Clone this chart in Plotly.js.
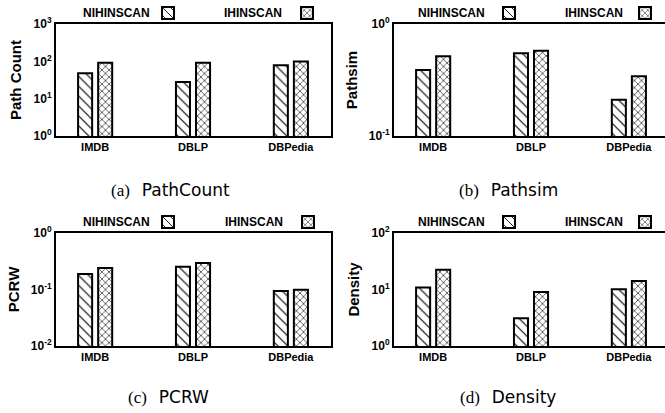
<!DOCTYPE html>
<html>
<head>
<meta charset="utf-8">
<script src="https://cdn.plot.ly/plotly-3.0.1.min.js"></script>
<style>
html, body { margin: 0; padding: 0; overflow: hidden; background: #fff; }
#chart { width: 671px; height: 413px; }
</style>
</head>
<body>
<div id="chart"></div>
<script>
// ---- data ----
const categories = ['IMDB', 'DBLP', 'DBPedia'];
const seriesNames = ['NIHINSCAN', 'IHINSCAN'];

const pathCountNIH = [48, 28, 78];
const pathCountIH = [92, 92, 99];

const pathsimNIH = [0.388, 0.548, 0.211];
const pathsimIH = [0.515, 0.578, 0.341];

const pcrwNIH = [0.188, 0.253, 0.094];
const pcrwIH = [0.240, 0.294, 0.099];

const densityNIH = [10.9, 3.09, 10.1];
const densityIH = [22.4, 9.0, 14.1];

const yTitles = ['Path Count', 'Pathsim', 'PCRW', 'Density'];
const captionLabels = ['(a)', '(b)', '(c)', '(d)'];
const captionNames = ['PathCount', 'Pathsim', 'PCRW', 'Density'];

const tickValsA = [1, 10, 100, 1000];
const tickTextA = ['10<sup>0</sup>', '10<sup>1</sup>', '10<sup>2</sup>', '10<sup>3</sup>'];
const tickValsB = [0.1, 1];
const tickTextB = ['10<sup>-1</sup>', '10<sup>0</sup>'];
const tickValsC = [0.01, 0.1, 1];
const tickTextC = ['10<sup>-2</sup>', '10<sup>-1</sup>', '10<sup>0</sup>'];
const tickValsD = [1, 10, 100];
const tickTextD = ['10<sup>0</sup>', '10<sup>1</sup>', '10<sup>2</sup>'];

// ---- layout helpers ----
const W = 671, H = 413;
const px = v => v / W;
const py = v => 1 - v / H;

const panelData = [
  [pathCountNIH, pathCountIH],
  [pathsimNIH, pathsimIH],
  [pcrwNIH, pcrwIH],
  [densityNIH, densityIH]
];
const panelTicks = [
  [tickValsA, tickTextA, [0, 3]],
  [tickValsB, tickTextB, [-1, 0]],
  [tickValsC, tickTextC, [-2, 0]],
  [tickValsD, tickTextD, [0, 2]]
];
const boxes = [
  {l: 56, r: 331, t: 24, b: 136},
  {l: 394, r: 669, t: 24, b: 136},
  {l: 56, r: 331, t: 233, b: 346},
  {l: 394, r: 669, t: 233, b: 346}
];
const legendIds = ['legend', 'legend2', 'legend3', 'legend4'];
const swatchCenters = [[168, 302], [509, 640], [168, 303], [509, 640]];
const legendTextEnds = [[152, 284], [487, 625], [152, 285], [487, 625]];
const legendY = [13, 222];
const captionX = [170, 508, 168, 508];
const captionY = [190, 397];

const patterns = [
  {shape: '\\', size: 7, solidity: 0.16},
  {shape: 'x', size: 5, solidity: 0.22}
];

const bold = {family: 'Liberation Sans, Arial, sans-serif', weight: 'bold', color: '#000'};

const traces = [];
const layout = {
  width: W, height: H,
  margin: {l: 0, r: 0, t: 0, b: 0, autoexpand: false},
  paper_bgcolor: '#fff', plot_bgcolor: '#fff',
  barmode: 'group', bargap: 0.59, bargroupgap: 0.3,
  showlegend: true,
  annotations: [],
  font: {family: 'Liberation Sans, Arial, sans-serif', color: '#000'}
};

for (let p = 0; p < 4; p++) {
  const sfx = p === 0 ? '' : String(p + 1);
  const xa = 'x' + sfx, ya = 'y' + sfx;
  const bx = boxes[p];
  for (let s = 0; s < 2; s++) {
    traces.push({
      type: 'bar',
      x: categories,
      y: panelData[p][s],
      name: '',
      legend: legendIds[p],
      xaxis: xa, yaxis: ya,
      hoverinfo: 'skip',
      marker: {
        color: '#fff',
        line: {color: '#000', width: 2},
        pattern: Object.assign({fgcolor: '#000', bgcolor: '#fff', fillmode: 'replace'}, patterns[s])
      }
    });
  }
  layout['xaxis' + sfx] = {
    domain: [px(bx.l), px(bx.r)],
    anchor: ya,
    type: 'category',
    range: [-0.4, 2.41],
    showline: true, mirror: true, linecolor: '#000', linewidth: 2,
    ticks: '', showgrid: false, zeroline: false, fixedrange: true,
    tickfont: Object.assign({size: 11}, bold)
  };
  layout['yaxis' + sfx] = {
    domain: [py(bx.b), py(bx.t)],
    anchor: xa,
    type: 'log',
    range: panelTicks[p][2],
    tickvals: panelTicks[p][0],
    ticktext: panelTicks[p][1],
    showline: true, mirror: true, linecolor: '#000', linewidth: 2,
    ticks: '', showgrid: false, zeroline: false, fixedrange: true,
    tickfont: Object.assign({size: 12}, bold),
    title: {text: yTitles[p], font: Object.assign({size: 15}, bold), standoff: 8}
  };
  const row = p < 2 ? 0 : 1;
  layout[legendIds[p]] = {
    orientation: 'h',
    x: px(swatchCenters[p][0] - 20), xanchor: 'left',
    y: py(legendY[row]), yanchor: 'middle',
    entrywidth: swatchCenters[p][1] - swatchCenters[p][0] - 40, entrywidthmode: 'pixels',
    bgcolor: 'rgba(0,0,0,0)', borderwidth: 0,
    font: {size: 12}, itemclick: false, itemdoubleclick: false
  };
  for (let s = 0; s < 2; s++) {
    layout.annotations.push({
      text: seriesNames[s],
      x: px(legendTextEnds[p][s]), xref: 'paper', xanchor: 'right',
      y: py(legendY[row]), yref: 'paper', yanchor: 'middle',
      showarrow: false,
      font: Object.assign({size: 12}, bold)
    });
  }
  layout.annotations.push({
    text: '<span style="font-family:\'Liberation Serif\',serif">' + captionLabels[p] + '</span>\u2002\u2009' + captionNames[p],
    x: px(captionX[p]), xref: 'paper', xanchor: 'center',
    y: py(captionY[row]), yref: 'paper', yanchor: 'middle',
    showarrow: false,
    font: {family: 'DejaVu Sans, sans-serif', size: 17, color: '#000'}
  });
}

Plotly.newPlot('chart', traces, layout, {staticPlot: true, displayModeBar: false});
</script>
</body>
</html>
